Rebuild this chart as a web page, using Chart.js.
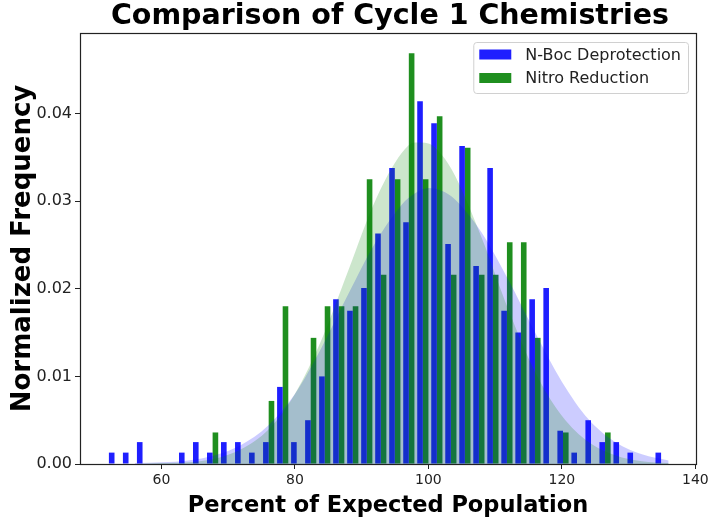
<!DOCTYPE html>
<html lang="en">
  <head>
    <meta charset="UTF-8" />
    <title>Comparison of Cycle 1 Chemistries</title>
    <script src="https://cdn.jsdelivr.net/npm/chart.js@4"></script>
    <style>
      html,
      body {
        margin: 0;
        padding: 0;
        background: #fff;
      }
    </style>
  </head>
  <body>
    <canvas id="histChart" width="710" height="524"></canvas>

    <script>
      // histogram bins (centre of each bin, % of expected population)
      const binCenters = [
        52.97, 55.07, 57.17, 59.27, 61.37, 63.47, 65.57, 67.67, 69.77, 71.87,
        73.97, 76.07, 78.17, 80.27, 82.37, 84.47, 86.57, 88.67, 90.77, 92.87,
        94.97, 97.07, 99.17, 101.27, 103.37, 105.47, 107.57, 109.67, 111.77, 113.87,
        115.97, 118.07, 120.17, 122.27, 124.37, 126.47, 128.57, 130.67, 132.77, 134.87,
      ];

      // normalized frequency per bin
      const nBocFreq = [
        0.0013, 0.0013, 0.0025, 0, 0, 0.0013, 0.0025, 0.0013, 0.0025, 0.0025,
        0.0013, 0.0025, 0.0088, 0.0025, 0.005, 0.01, 0.0188, 0.0175, 0.0201, 0.0263,
        0.0338, 0.0276, 0.0414, 0.0389, 0.0251, 0.0363, 0.0226, 0.0338, 0.0175, 0.015,
        0.0188, 0.0201, 0.0038, 0.0013, 0.005, 0.0025, 0.0025, 0.0013, 0, 0.0013,
      ];
      const nitroFreq = [
        0, 0, 0, 0, 0, 0, 0, 0.0036, 0, 0,
        0, 0.0072, 0.018, 0, 0.0144, 0.018, 0.018, 0.018, 0.0325, 0.0216,
        0.0325, 0.0469, 0.0325, 0.0397, 0.0216, 0.0361, 0.0216, 0.0216, 0.0253, 0.0253,
        0.0144, 0, 0.0036, 0, 0, 0.0036, 0, 0, 0, 0,
      ];

      // shaded distribution curves
      const curveX = [
        56, 60, 64, 68, 72, 76, 80, 84, 88, 92, 96, 98, 100, 102, 104, 108, 112,
        116, 120, 124, 128, 132, 136,
      ];
      const nBocCurve = [
        0.0001, 0.0002, 0.0004, 0.001, 0.0022, 0.0044, 0.008, 0.0133, 0.0194,
        0.0252, 0.0296, 0.0309, 0.0315, 0.0312, 0.0302, 0.0264, 0.021, 0.015,
        0.0094, 0.0051, 0.0025, 0.0011, 0.0004,
      ];
      const nitroCurve = [
        0, 0.0001, 0.0002, 0.0006, 0.0017, 0.0039, 0.008, 0.0142, 0.0221, 0.03,
        0.0355, 0.0367, 0.0366, 0.0353, 0.0329, 0.0258, 0.0176, 0.0105, 0.0055,
        0.0025, 0.001, 0.0003, 0.0001,
      ];

      const xTicks = [60, 80, 100, 120, 140];
      const yTicks = [0, 0.01, 0.02, 0.03, 0.04];

      const TITLE = "Comparison of Cycle 1 Chemistries";
      const FONT = "'DejaVu Sans', sans-serif";
      const BLUE = "rgba(0, 0, 255, 0.88)";
      const GREEN = "rgba(0, 128, 0, 0.88)";

      const toPoints = (xs, ys) => xs.map((x, i) => ({ x: x, y: ys[i] }));

      // matplotlib style frame around the plot area
      const framePlugin = {
        id: "frame",
        afterDatasetsDraw(chart) {
          const { ctx, chartArea: a } = chart;
          ctx.save();
          ctx.strokeStyle = "#222";
          ctx.lineWidth = 1.2;
          ctx.strokeRect(a.left + 0.5, a.top + 0.5, a.right - a.left, a.bottom - a.top);
          ctx.restore();
        },
      };

      // title centred over the plot area, not the whole canvas
      const titlePlugin = {
        id: "plotTitle",
        afterDraw(chart) {
          const { ctx, chartArea: a } = chart;
          ctx.save();
          ctx.font = "bold 28.5px " + FONT;
          ctx.fillStyle = "#000";
          ctx.textAlign = "center";
          ctx.textBaseline = "alphabetic";
          ctx.fillText(TITLE, (a.left + a.right) / 2 + 2, 24);
          ctx.restore();
        },
      };

      // legend box in the upper right corner of the plot
      const legendPlugin = {
        id: "boxLegend",
        afterDraw(chart) {
          const { ctx, chartArea: a } = chart;
          const items = chart.data.datasets.filter((d) => d.type === "bar");
          ctx.save();
          ctx.font = "16px " + FONT;
          const textW = Math.max(...items.map((d) => ctx.measureText(d.label).width));
          const w = 6 + 32 + 14 + textW + 7;
          const h = 51;
          const x0 = a.right - 8 - w;
          const y0 = a.top + 9;
          ctx.beginPath();
          ctx.roundRect(x0 + 0.5, y0 + 0.5, w, h, 3);
          ctx.fillStyle = "rgba(255,255,255,0.8)";
          ctx.fill();
          ctx.strokeStyle = "#d0d0d0";
          ctx.lineWidth = 1;
          ctx.stroke();
          ctx.textBaseline = "middle";
          items.forEach((d, i) => {
            const cy = y0 + 12.5 + i * 23.5;
            ctx.fillStyle = d.backgroundColor;
            ctx.fillRect(x0 + 6, cy - 5, 32, 10);
            ctx.fillStyle = "#222";
            ctx.fillText(d.label, x0 + 52, cy + 1);
          });
          ctx.restore();
        },
      };

      const ctxHist = document.getElementById("histChart").getContext("2d");
      const histChart = new Chart(ctxHist, {
        type: "bar",
        data: {
          datasets: [
            {
              type: "line",
              label: "N-Boc fit",
              data: toPoints(curveX, nBocCurve),
              backgroundColor: "rgba(0, 0, 255, 0.2)",
              borderWidth: 0,
              pointRadius: 0,
              fill: "origin",
              cubicInterpolationMode: "monotone",
              order: 1,
            },
            {
              type: "line",
              label: "Nitro fit",
              data: toPoints(curveX, nitroCurve),
              backgroundColor: "rgba(0, 128, 0, 0.2)",
              borderWidth: 0,
              pointRadius: 0,
              fill: "origin",
              cubicInterpolationMode: "monotone",
              order: 0,
            },
            {
              type: "bar",
              label: "N-Boc Deprotection",
              data: toPoints(binCenters, nBocFreq),
              backgroundColor: BLUE,
              borderWidth: 0,
              categoryPercentage: 0.8,
              barPercentage: 1.0,
              order: 2,
            },
            {
              type: "bar",
              label: "Nitro Reduction",
              data: toPoints(binCenters, nitroFreq),
              backgroundColor: GREEN,
              borderWidth: 0,
              categoryPercentage: 0.8,
              barPercentage: 1.0,
              order: 2,
            },
          ],
        },
        options: {
          responsive: false,
          animation: false,
          devicePixelRatio: 1,
          layout: { padding: { top: 33, left: 0, right: 14, bottom: 0 } },
          plugins: {
            legend: { display: false },
            tooltip: { enabled: false },
            title: { display: false },
          },
          scales: {
            x: {
              type: "linear",
              min: 47.8,
              max: 140.1,
              offset: false,
              afterBuildTicks: (scale) => {
                scale.ticks = xTicks.map((v) => ({ value: v }));
              },
              afterFit: (scale) => {
                scale.height = 60;
                scale.paddingLeft = 0;
                scale.paddingRight = 0;
              },
              ticks: {
                autoSkip: false,
                maxRotation: 0,
                padding: 3,
                color: "#222",
                font: { family: FONT, size: 14 },
              },
              grid: {
                display: true,
                offset: false,
                drawOnChartArea: false,
                drawTicks: true,
                tickLength: 5,
                color: "#222",
              },
              border: { display: false },
              title: {
                display: true,
                text: "Percent of Expected Population",
                color: "#000",
                font: { family: FONT, size: 22.5, weight: "bold" },
                padding: { top: 0, bottom: 4.7 },
              },
            },
            y: {
              min: 0,
              max: 0.0492,
              afterBuildTicks: (scale) => {
                scale.ticks = yTicks.map((v) => ({ value: v }));
              },
              afterFit: (scale) => {
                scale.width = 80;
                scale.paddingTop = 0;
                scale.paddingBottom = 0;
              },
              ticks: {
                padding: 3,
                color: "#222",
                font: { family: FONT, size: 16 },
                callback: (v) => v.toFixed(2),
              },
              grid: {
                display: true,
                drawOnChartArea: false,
                drawTicks: true,
                tickLength: 5,
                color: "#222",
              },
              border: { display: false },
              title: {
                display: true,
                text: "Normalized Frequency",
                color: "#000",
                font: { family: FONT, size: 26, weight: "bold" },
                padding: { top: 8, bottom: 0 },
              },
            },
          },
        },
        plugins: [framePlugin, titlePlugin, legendPlugin],
      });
    </script>
  </body>
</html>
